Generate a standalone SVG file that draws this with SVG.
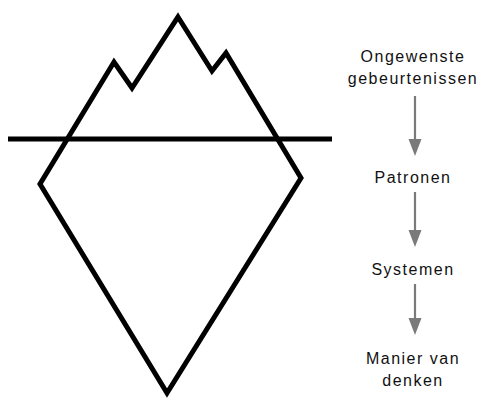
<svg xmlns="http://www.w3.org/2000/svg" width="489" height="400" viewBox="0 0 489 400">
<style>
.ice{fill:none;stroke:#000;stroke-width:5;stroke-linejoin:miter}
.lbl{font-family:"Liberation Sans",Arial,sans-serif;font-size:16px;fill:#111;text-anchor:middle;letter-spacing:1.5px}
.arr{stroke:#7a7a7a;stroke-width:2.2;fill:none}
.head{fill:#7a7a7a}
</style>
<rect width="489" height="400" fill="#fff"/>
<g id="iceberg">
<polygon class="ice" points="178,17 212,71 226,53 301,178 167,393 40,184 114,62 132,88"/>
</g>
<g id="waterline">
<line class="ice" x1="8" y1="139" x2="332" y2="139"/>
</g>
<g id="n1"><text class="lbl" x="413" y="62">Ongewenste</text><text class="lbl" x="413" y="84">gebeurtenissen</text></g>
<g id="n2"><text class="lbl" x="413" y="183">Patronen</text></g>
<g id="n3"><text class="lbl" x="413" y="275">Systemen</text></g>
<g id="n4"><text class="lbl" x="413" y="364">Manier van</text><text class="lbl" x="413" y="386">denken</text></g>
<g id="connectors">
<line class="arr" x1="415" y1="96" x2="415" y2="140"/>
<polygon class="head" points="408.5,139 421.5,139 415,156"/>
<line class="arr" x1="415" y1="192" x2="415" y2="232"/>
<polygon class="head" points="408.5,230 421.5,230 415,247"/>
<line class="arr" x1="415" y1="284" x2="415" y2="320"/>
<polygon class="head" points="408.5,318 421.5,318 415,335"/>
</g>
</svg>
